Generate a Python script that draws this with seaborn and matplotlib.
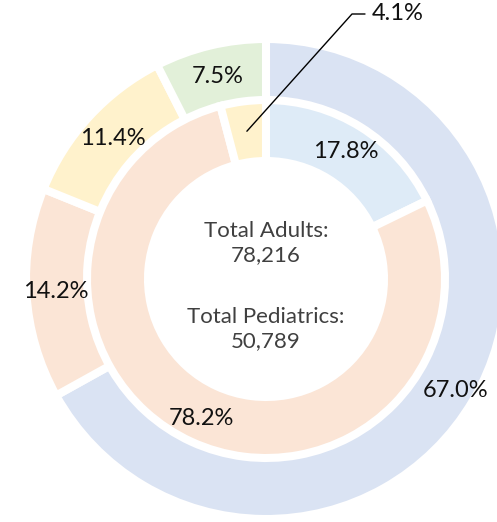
import numpy as np
import matplotlib
matplotlib.use("Agg")
import matplotlib.pyplot as plt
import seaborn as sns

# outer ring = adults, inner ring = pediatrics
outer_labels = ['67.0%', '14.2%', '11.4%', '7.5%']
outer_values = [67.0, 14.2, 11.4, 7.5]
outer_colors = ['#DAE3F3', '#FBE5D6', '#FFF2CC', '#E2F0D9']

inner_labels = ['17.8%', '78.2%', '4.1%']
inner_values = [17.8, 78.2, 4.1]
inner_colors = ['#DEEBF7', '#FBE5D6', '#FFF2CC']

total_adults = '78,216'
total_peds = '50,789'

sns.set_theme(style='white')
plt.rcParams['font.family'] = ['Lato', 'DejaVu Sans']

fig = plt.figure(figsize=(4.97, 5.22), dpi=100)
ax = fig.add_axes([0, 0, 1, 1])

edge = dict(edgecolor='white', linewidth=5.8)

ax.pie(outer_values, radius=240, colors=outer_colors, startangle=90,
       counterclock=False, wedgeprops=dict(width=62, **edge))
ax.pie(inner_values, radius=179, colors=inner_colors, startangle=90,
       counterclock=False, wedgeprops=dict(width=61, **edge))
ax.set_xlim(-266, 231)
ax.set_ylim(-243, 279)
ax.set_aspect('equal')
ax.axis('off')


def mid_angles(vals):
    v = np.array(vals, dtype=float)
    frac = v / v.sum()
    ends = np.cumsum(frac)
    mids = ends - frac / 2
    return np.deg2rad(90 - 360 * mids)


outer_r = [220, 211, 208, 208]
for lab, a, r in zip(outer_labels, mid_angles(outer_values), outer_r):
    ax.text(r * np.cos(a), r * np.sin(a), lab, ha='center', va='center',
            fontsize=17, color='#111111')

inner_r = [150, 154]
for lab, a, r in zip(inner_labels[:2], mid_angles(inner_values)[:2], inner_r):
    ax.text(r * np.cos(a), r * np.sin(a), lab, ha='center', va='center',
            fontsize=17, color='#111111')

# leader line for the small slice
a = mid_angles(inner_values)[2]
anchor = (149 * np.cos(a), 149 * np.sin(a))
ax.plot([anchor[0], 86, 99], [anchor[1], 265, 265], color='black', lw=1.0)
ax.text(106, 265, inner_labels[2], ha='left', va='center', fontsize=17,
        color='#111111')

ax.text(0, 36, 'Total Adults:\n' + total_adults, ha='center', va='center',
        fontsize=16, color='#404040', linespacing=1.25)
ax.text(0, -50, 'Total Pediatrics:\n' + total_peds, ha='center', va='center',
        fontsize=16, color='#404040', linespacing=1.25)

fig.savefig('out.png', dpi=100, facecolor='white')
